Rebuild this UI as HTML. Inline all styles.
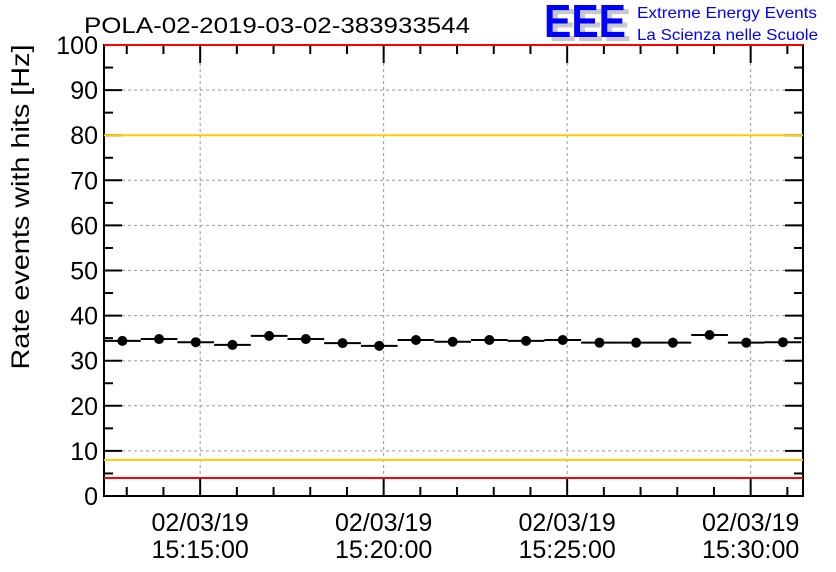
<!DOCTYPE html>
<html><head><meta charset="utf-8"><style>
body{margin:0;background:#fff;}
svg{display:block;font-family:"Liberation Sans",Arial,sans-serif;}
</style></head><body>
<svg id="c" width="836" height="572" viewBox="0 0 836 572">
<rect width="836" height="572" fill="#fff"/>
<text x="84" y="33" font-size="22" textLength="386" lengthAdjust="spacingAndGlyphs">POLA-02-2019-03-02-383933544</text>
<g>
<text x="549" y="41" font-size="46" font-weight="bold" fill="#c8c8c8" textLength="82" lengthAdjust="spacingAndGlyphs">EEE</text>
<text x="544" y="37" font-size="46" font-weight="bold" fill="#0000ff" textLength="82" lengthAdjust="spacingAndGlyphs">EEE</text>
<text x="637" y="18" font-size="16" fill="#0000ff" textLength="180" lengthAdjust="spacingAndGlyphs">Extreme Energy Events</text>
<text x="637" y="40" font-size="16" fill="#0000ff" textLength="181" lengthAdjust="spacingAndGlyphs">La Scienza nelle Scuole</text>
</g>
<text transform="translate(29,207) rotate(-90)" text-anchor="middle" font-size="25" textLength="325" lengthAdjust="spacingAndGlyphs">Rate events with hits [Hz]</text>
<g id="grid"></g><g id="lines"></g><g id="axes"></g><g id="marks"></g>
</svg>
<script>
const values=[34.4,34.8,34.1,33.5,35.5,34.8,33.9,33.3,34.6,34.2,34.6,34.4,34.6,34.0,34.0,34.0,35.7,34.0,34.1];
const yTicks=[0,10,20,30,40,50,60,70,80,90,100];
const xTickDates=["02/03/19","02/03/19","02/03/19","02/03/19"];
const xTickTimes=["15:15:00","15:20:00","15:25:00","15:30:00"];
const xTickMinutes=[15,20,25,30];
const refLines=[{v:100,c:"#ff0000"},{v:80,c:"#ffcc00"},{v:8,c:"#ffcc00"},{v:4,c:"#ff0000"}];
const X0=104,X1=803,Y0=496,Y1=45;
const tStart=12.38, tEnd=tStart+(X1-X0)/36.7;
const xs=m=>X0+(m-tStart)/(tEnd-tStart)*(X1-X0);
const ys=v=>Y0-v/100*(Y0-Y1);
const NS="http://www.w3.org/2000/svg";
function mk(p,t,a){const e=document.createElementNS(NS,t);for(const k in a)e.setAttribute(k,a[k]);p.appendChild(e);return e;}
const grid=document.getElementById('grid'),lines=document.getElementById('lines'),axes=document.getElementById('axes'),marks=document.getElementById('marks');
yTicks.forEach(v=>{
 if(v>0&&v<100){const g=mk(grid,'line',{x1:X0,x2:X1,y1:ys(v),y2:ys(v),stroke:'#999','stroke-dasharray':'3,3','stroke-width':1});
 
 }
 const t=mk(axes,'text',{x:X0-6,y:ys(v)+9,'text-anchor':'end','font-size':25});t.textContent=v;
 
 
 mk(axes,'line',{x1:X0,x2:X0+18,y1:ys(v),y2:ys(v),stroke:'#000','stroke-width':2});
 mk(axes,'line',{x1:X1,x2:X1-18,y1:ys(v),y2:ys(v),stroke:'#000','stroke-width':2});
 if(v<100){mk(axes,'line',{x1:X0,x2:X0+9,y1:ys(v+5),y2:ys(v+5),stroke:'#000','stroke-width':2});
 mk(axes,'line',{x1:X1,x2:X1-9,y1:ys(v+5),y2:ys(v+5),stroke:'#000','stroke-width':2});}
});
xTickMinutes.forEach((m,i)=>{
 const x=xs(m);
 const g=mk(grid,'line',{x1:x,x2:x,y1:Y1,y2:Y0,stroke:'#999','stroke-dasharray':'3,3','stroke-width':1});
 
 
 const t1=mk(axes,'text',{x:x,y:531,'text-anchor':'middle','font-size':25});t1.textContent=xTickDates[i];
 
 
 const t2=mk(axes,'text',{x:x,y:558,'text-anchor':'middle','font-size':25});t2.textContent=xTickTimes[i];
 
 
});
for(let m=Math.ceil(tStart);m<=tEnd;m++){
 const x=xs(m),L=(m%5===0)?18:9;
 mk(axes,'line',{x1:x,x2:x,y1:Y0,y2:Y0-L,stroke:'#000','stroke-width':2});
 mk(axes,'line',{x1:x,x2:x,y1:Y1,y2:Y1+L,stroke:'#000','stroke-width':2});
}
mk(axes,'rect',{x:X0,y:Y1,width:X1-X0,height:Y0-Y1,fill:'none',stroke:'#000','stroke-width':2});
refLines.forEach(r=>{const l=mk(lines,'line',{x1:X0,x2:X1,y1:ys(r.v),y2:ys(r.v),stroke:r.c,'stroke-width':2});
 
 });
axes.parentNode.appendChild(lines);
values.forEach((v,i)=>{
 const a=xs(tStart+i),b=xs(tStart+i+1),y=ys(v);
 const h=mk(marks,'line',{x1:a,x2:b,y1:y,y2:y,stroke:'#000','stroke-width':2});
 
 
 const c=mk(marks,'circle',{cx:(a+b)/2,cy:y,r:5,fill:'#000'});
 
 
});
</script>
</body></html>
